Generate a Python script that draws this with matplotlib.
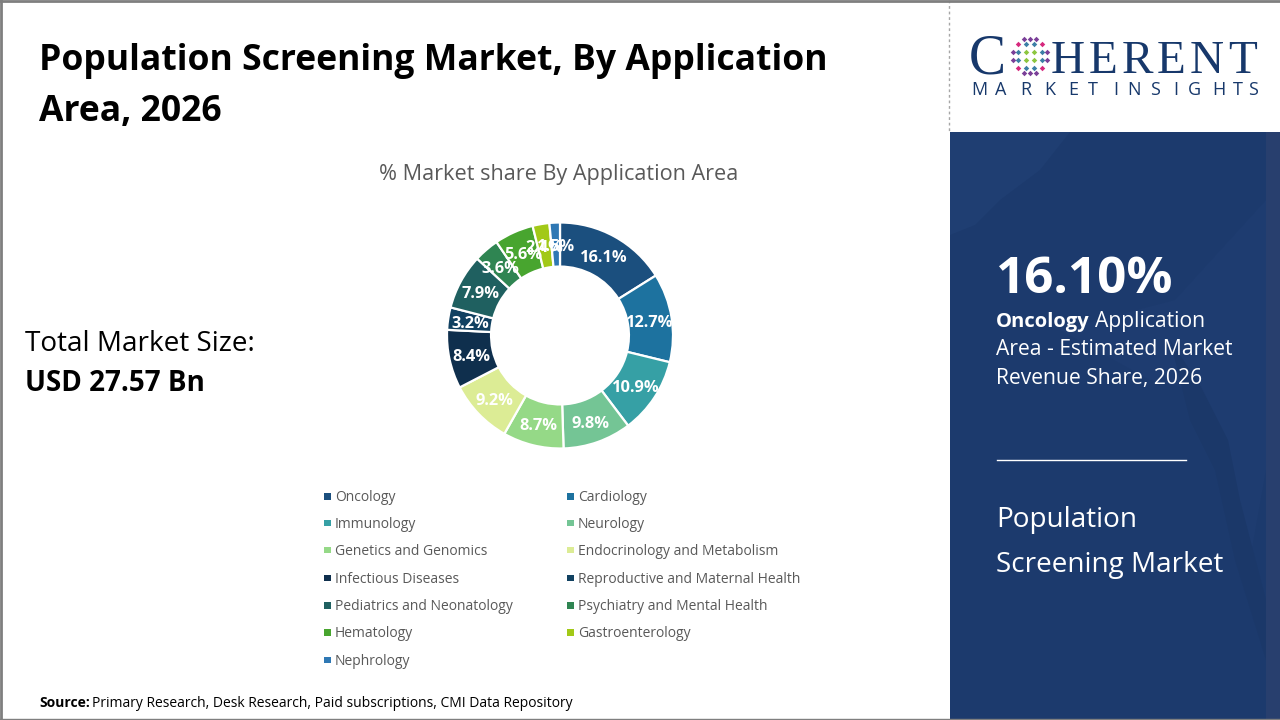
import matplotlib
matplotlib.use("Agg")
import numpy as np
import matplotlib.pyplot as plt
from matplotlib.patches import Rectangle, Polygon

plt.rcParams['font.family'] = ['Open Sans', 'DejaVu Sans']

categories = ["Oncology", "Cardiology", "Immunology", "Neurology", "Genetics and Genomics",
              "Endocrinology and Metabolism", "Infectious Diseases", "Reproductive and Maternal Health",
              "Pediatrics and Neonatology", "Psychiatry and Mental Health", "Hematology",
              "Gastroenterology", "Nephrology"]
shares = [16.1, 12.7, 10.9, 9.8, 8.7, 9.2, 8.4, 3.2, 7.9, 3.6, 5.6, 2.4, 1.5]
colors = ["#1b4f7e", "#1d729f", "#36a0a5", "#74c595", "#95d987", "#dcec95", "#0f2f4d",
          "#114161", "#1f6060", "#2f8552", "#48a52f", "#a2c917", "#2f78b4"]

fig = plt.figure(figsize=(12.8, 7.2), dpi=100, facecolor="white")

# 整张图用像素坐标
bg = fig.add_axes([0, 0, 1, 1])
bg.set_xlim(0, 1280)
bg.set_ylim(720, 0)
bg.axis("off")

# 右边蓝色面板,带一点地图底纹
bg.add_patch(Rectangle((950, 132), 330, 588, color="#1c3a6d", lw=0))
bg.add_patch(Rectangle((1266, 132), 14, 588, color="#283f6e", lw=0))
bg.add_patch(Polygon([(950, 132), (1070, 132), (1040, 170), (1000, 200), (975, 225), (950, 235)],
                     color="#1f3e72", lw=0))
bg.add_patch(Polygon([(1060, 330), (1175, 300), (1266, 200), (1266, 470), (1250, 560), (1225, 460),
                      (1195, 390), (1150, 380)], color="#1e3c70", lw=0))
bg.add_patch(Polygon([(1170, 340), (1200, 385), (1228, 440), (1240, 500), (1266, 600), (1266, 660),
                      (1235, 560), (1215, 470), (1190, 420)], color="#1b3869", lw=0))
bg.plot([949, 949], [0, 132], color="#a6a6a6", lw=1, ls=(0, (2, 2)))
bg.plot([0, 1280], [1, 1], color="#7f7f7f", lw=2)
bg.plot([1, 1], [0, 720], color="#7f7f7f", lw=2)
bg.plot([0, 1280], [719, 719], color="#7f7f7f", lw=1)

# 标题
bg.text(39, 70, "Population Screening Market, By Application", fontsize=25.6, fontweight="bold",
        color="black", va="baseline")
bg.text(39, 121, "Area, 2026", fontsize=25.6, fontweight="bold", color="black", va="baseline")
bg.text(559, 180, "% Market share By Application Area", fontsize=15.6, color="#595959",
        ha="center", va="baseline")
bg.text(25, 351, "Total Market Size:", fontsize=20.1, color="black", va="baseline")
bg.text(25, 391, "USD 27.57 Bn", fontsize=20, fontweight="bold", color="black", va="baseline")

# 圆环图
cx, cy, r = 560, 335.5, 113
ax = fig.add_axes([(cx - r) / 1280, 1 - (cy + r) / 720, 2 * r / 1280, 2 * r / 720])
wedges, _ = ax.pie(shares, colors=colors, startangle=90, counterclock=False, radius=1,
                   wedgeprops=dict(width=0.39, edgecolor="white", linewidth=1.6))
ax.set_xlim(-1, 1)
ax.set_ylim(-1, 1)
for w, s in zip(wedges, shares):
    a = np.deg2rad((w.theta1 + w.theta2) / 2)
    ax.text(0.805 * np.cos(a), 0.805 * np.sin(a) - 0.02, f"{s}%", color="white", fontsize=11.8,
            fontweight="bold", ha="center", va="center")

# 图例
leg_x = [324, 567]
leg_y = [496.3, 523, 550, 578, 605.5, 632.5, 660]
for i, (name, c) in enumerate(zip(categories, colors)):
    x = leg_x[i % 2]
    y = leg_y[i // 2]
    bg.add_patch(Rectangle((x, y - 3.2), 6.5, 6.5, color=c, lw=0))
    bg.text(x + 11, y + 4.6, name, fontsize=10, color="#595959", va="baseline")

bg.text(39, 707, "Source:", fontsize=10, fontweight="bold", color="black", va="baseline")
bg.text(92, 707, "Primary Research, Desk Research, Paid subscriptions, CMI Data Repository",
        fontsize=10, color="black", va="baseline")

# 面板文字
bg.text(996, 293, "16.10%", fontsize=36.8, fontweight="bold", color="white", va="baseline")
bg.text(996, 327, "Oncology", fontsize=14.5, fontweight="bold", color="white", va="baseline")
bg.text(1095, 327, "Application", fontsize=15.2, color="white", va="baseline")
bg.text(996, 355, "Area - Estimated Market", fontsize=15.2, color="white", va="baseline")
bg.text(996, 384, "Revenue Share, 2026", fontsize=15.2, color="white", va="baseline")
bg.plot([997, 1186], [459.5, 459.5], color="white", lw=1)
bg.text(996, 527, "Population", fontsize=20.1, color="white", va="baseline")
bg.text(996, 572, "Screening Market", fontsize=20.1, color="white", va="baseline")

# logo
navy = "#17386b"
bg.text(969, 74, "C", fontsize=40, family="Liberation Serif", color=navy, va="baseline")
herent_x = [1051, 1089, 1122, 1157, 1190, 1228]
for x, ch in zip(herent_x, "HERENT"):
    bg.text(x, 73, ch, fontsize=34, family="Liberation Serif", color=navy, va="baseline")
logo_letters = "MARKETINSIGHTS"
logo_x = [971, 995, 1020, 1044, 1068, 1088, 1113, 1127, 1150, 1173, 1188, 1212, 1233, 1248]
for x, ch in zip(logo_x, logo_letters):
    bg.text(x, 95, ch, fontsize=13, color=navy, va="baseline", ha="left")

purple, teal, green, pink = "#7a3f98", "#3c7fa6", "#8cc63f", "#d6287d"
globe_rows = [(-17, [-6, 0, 6], purple),
              (-12, [-12, 12], pink), (-12, [-4, 4], teal),
              (-4, [-17, 17], purple), (-4, [-12, 12], teal), (-4, [-4, 4], green),
              (4, [-17, 17], purple), (4, [-12, 12], teal), (4, [-4, 4], green),
              (12, [-12, 12], pink), (12, [-4, 4], teal),
              (17, [-6, 0, 6], purple)]
for dy, dxs, c in globe_rows:
    for dx in dxs:
        bg.plot(1030 + dx, 56 + dy, "D", ms=2.8, mec="none", color=c)

fig.savefig("out.png", dpi=100)
